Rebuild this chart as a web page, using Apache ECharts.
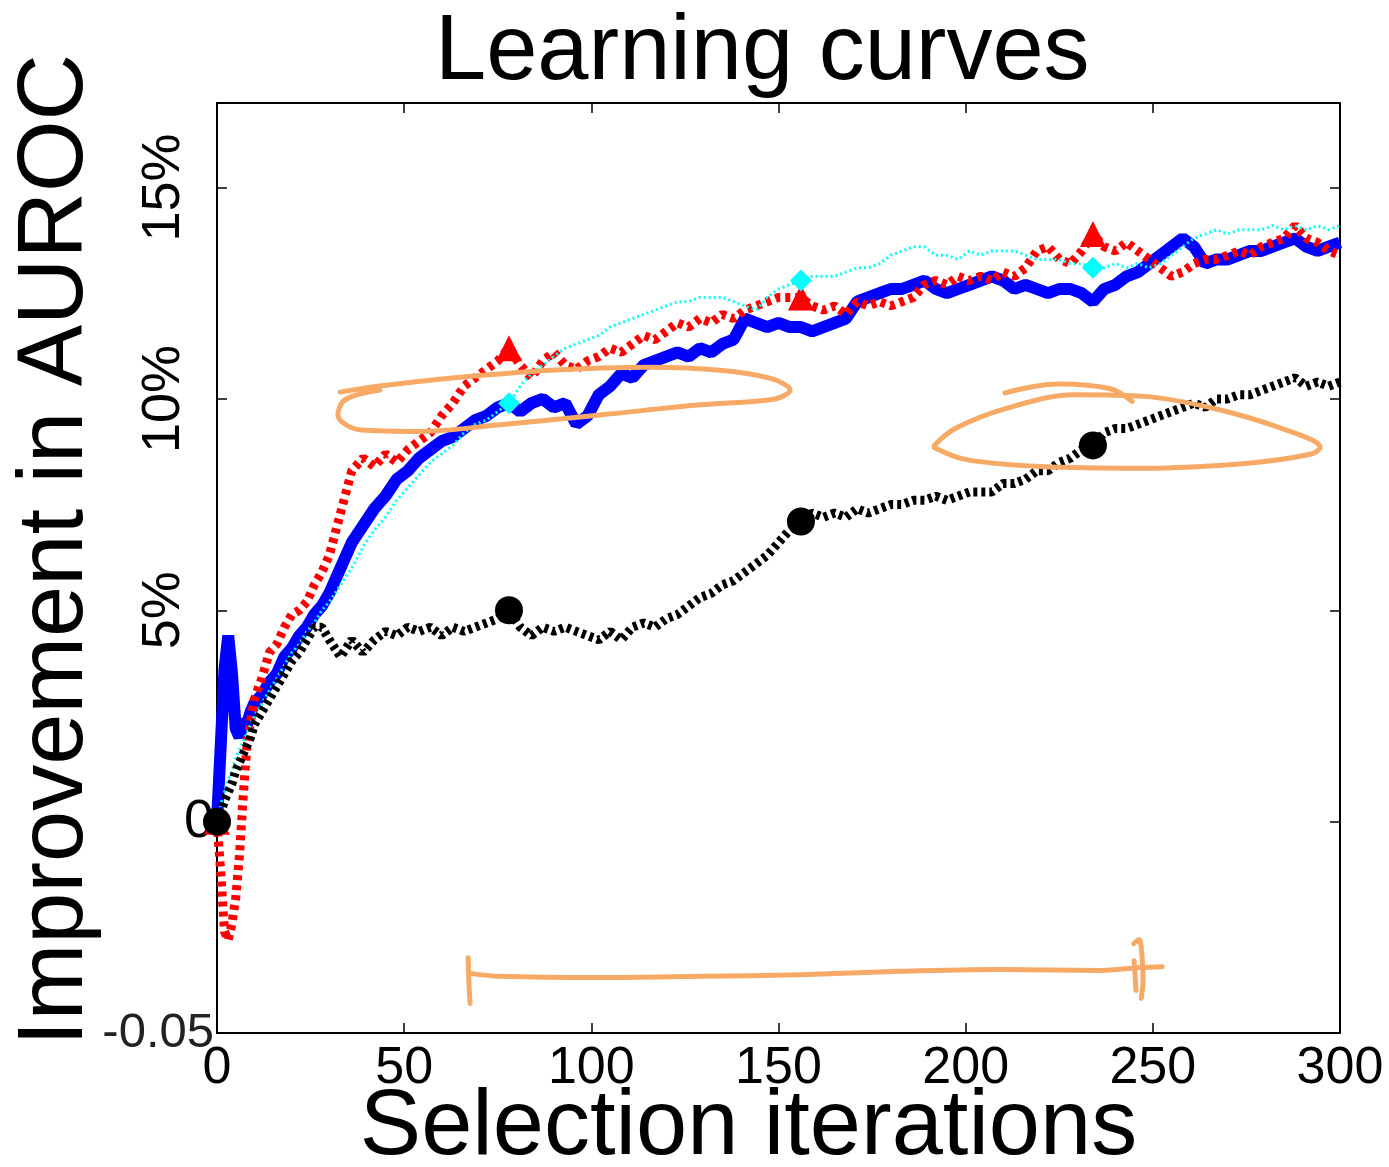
<!DOCTYPE html>
<html>
<head>
<meta charset="utf-8">
<title>Learning curves</title>
<script src="https://cdn.jsdelivr.net/npm/echarts@6/dist/echarts.min.js"></script>
<style>
  html, body { margin: 0; padding: 0; background: #fff; }
  #main { width: 1389px; height: 1167px; }
</style>
</head>
<body>
<div id="main"></div>
<script>
// selection iterations (x) – fine at the start, every 3 after 30
const iterations = [
  0, 1, 2, 3, 4, 5, 6, 7, 8, 9, 10,
  12, 14, 16, 18, 20, 22, 24, 26, 28,
  30, 33, 36, 39, 42, 45, 48, 51, 54, 57, 60, 63, 66, 69, 72, 75, 78, 81, 84, 87,
  90, 93, 96, 99, 102, 105, 108, 111, 114, 117, 120, 123, 126, 129, 132, 135, 138, 141, 144, 147,
  150, 153, 156, 159, 162, 165, 168, 171, 174, 177, 180, 183, 186, 189, 192, 195, 198, 201, 204, 207,
  210, 213, 216, 219, 222, 225, 228, 231, 234, 237, 240, 243, 246, 249, 252, 255, 258, 261, 264, 267,
  270, 273, 276, 279, 282, 285, 288, 291, 294, 297, 300
];

// improvement in AUROC, in %
const blueValues = [
  0, 1.8, 3.6, 4.4, 3.5, 2.2, 2.0, 2.4, 2.3, 2.6, 2.8,
  3.0, 3.3, 3.5, 3.9, 4.1, 4.4, 4.6, 4.9, 5.1,
  5.4, 6.0, 6.6, 7.0, 7.4, 7.7, 8.1, 8.3, 8.6, 8.8, 9.0, 9.1, 9.3, 9.5, 9.6, 9.8, 9.9, 9.7, 9.9, 10.0,
  9.8, 9.9, 9.4, 9.6, 10.1, 10.3, 10.6, 10.5, 10.8, 10.9, 11.0, 11.1, 11.0, 11.2, 11.1, 11.3, 11.4, 11.9, 11.8, 11.7,
  11.8, 11.7, 11.7, 11.6, 11.7, 11.8, 11.9, 12.3, 12.4, 12.5, 12.6, 12.6, 12.7, 12.8, 12.6, 12.5, 12.6, 12.7, 12.8, 12.9,
  12.8, 12.6, 12.7, 12.6, 12.5, 12.6, 12.6, 12.5, 12.3, 12.6, 12.7, 12.9, 13.0, 13.2, 13.4, 13.6, 13.8, 13.6, 13.2, 13.3,
  13.3, 13.4, 13.5, 13.5, 13.6, 13.7, 13.8, 13.6, 13.5, 13.6, 13.7
];
const redValues = [
  0, -1.2, -2.6, -2.8, -2.4, -1.8, -0.8, 0.6, 1.8, 2.4, 2.9,
  3.4, 4.0, 4.2, 4.6, 4.9, 5.0, 5.2, 5.6, 5.9,
  6.3, 7.3, 8.3, 8.6, 8.4, 8.7, 8.5, 8.8, 9.0, 9.2, 9.6, 9.9, 10.3, 10.5, 10.7, 10.9, 11.2, 10.8, 10.5, 10.9,
  11.1, 10.8, 10.7, 10.9, 11.0, 11.2, 11.1, 11.3, 11.5, 11.4, 11.6, 11.8, 11.7, 11.9, 11.8, 12.0, 11.9, 12.1, 12.2, 12.3,
  12.4, 12.4, 12.4, 12.2, 12.1, 12.2, 12.0, 12.3, 12.2, 12.3, 12.2, 12.3, 12.4, 12.7, 12.8, 12.7, 12.9, 12.8, 12.9, 12.8,
  13.0, 12.9, 13.1, 13.5, 13.6, 13.3, 13.2, 13.5, 13.9, 13.6, 13.5, 13.7, 13.5, 13.3, 13.1, 12.9, 13.0, 13.2, 13.3, 13.3,
  13.4, 13.5, 13.4, 13.6, 13.7, 13.8, 14.1, 13.8, 13.7, 13.5, 13.4
];
const cyanValues = [
  0, 0.4, 0.7, 1.0, 1.2, 1.5, 1.7, 1.9, 2.1, 2.3, 2.5,
  2.8, 3.1, 3.4, 3.7, 4.0, 4.2, 4.5, 4.7, 5.0,
  5.2, 5.6, 6.0, 6.5, 6.9, 7.2, 7.6, 7.9, 8.2, 8.5, 8.7, 8.9, 9.2, 9.4, 9.5, 9.7, 9.9, 10.3, 10.6, 10.8,
  11.0, 11.2, 11.3, 11.4, 11.5, 11.7, 11.8, 11.9, 12.0, 12.1, 12.2, 12.3, 12.3, 12.4, 12.4, 12.4, 12.3, 12.2, 12.1, 12.4,
  12.6, 12.7, 12.8, 12.9, 12.9, 12.9, 13.0, 13.1, 13.1, 13.2, 13.4, 13.5, 13.6, 13.6, 13.4, 13.4, 13.3, 13.5, 13.4, 13.5,
  13.5, 13.5, 13.4, 13.3, 13.3, 13.3, 13.2, 13.2, 13.1, 13.1, 13.2, 13.1, 13.2, 13.1, 13.2, 13.4, 13.6, 13.8, 13.9, 14.0,
  13.9, 14.0, 14.0, 14.0, 14.1, 14.0, 14.1, 14.0, 14.1, 14.0, 14.1
];
const blackValues = [
  0, 0.2, 0.5, 0.7, 0.9, 1.2, 1.4, 1.6, 1.8, 2.0, 2.3,
  2.6, 2.9, 3.2, 3.5, 3.8, 4.0, 4.3, 4.6, 4.6,
  4.3, 3.9, 4.3, 4.0, 4.3, 4.5, 4.4, 4.6, 4.5, 4.6, 4.4, 4.6, 4.5, 4.6, 4.7, 4.8, 5.0, 4.6, 4.4, 4.6,
  4.5, 4.6, 4.5, 4.4, 4.3, 4.5, 4.3, 4.6, 4.7, 4.6, 4.8, 4.9, 5.1, 5.3, 5.4, 5.6, 5.7, 5.9, 6.1, 6.3,
  6.6, 6.9, 7.1, 7.3, 7.2, 7.3, 7.2, 7.4, 7.3, 7.4, 7.5, 7.5, 7.6, 7.6, 7.7, 7.6, 7.7, 7.8, 7.8, 7.8,
  8.0, 8.0, 8.1, 8.3, 8.3, 8.5, 8.6, 8.8, 8.9, 9.2, 9.3, 9.3, 9.4, 9.5, 9.6, 9.7, 9.8, 9.9, 9.8, 10.0,
  10.0, 10.1, 10.1, 10.2, 10.3, 10.4, 10.5, 10.3, 10.4, 10.3, 10.4
];

// iterations where the curves carry a marker
const markerIterations = [0, 78, 156, 234];

// y ticks (%) and their labels
const yTicks = [-5, 0, 5, 10, 15];
const yTickLabels = ['-0.05', '0', '5%', '10%', '15%'];

// hand-drawn orange annotations, [iteration, %]
const noteLoopLeft = [
  [32.9, 10.16], [44.1, 10.31], [62.2, 10.49], [89.0, 10.68], [115.7, 10.75], [134.4, 10.68],
  [147.7, 10.49], [153.1, 10.21], [149.1, 10.0], [129.0, 9.86], [102.3, 9.62], [75.6, 9.39],
  [54.2, 9.23], [38.2, 9.27], [32.3, 9.62], [34.2, 9.98], [43.5, 10.21]
];
const noteLoopRightTail = [[210.5, 10.14], [224.7, 10.35], [238.6, 10.24], [244.5, 9.94]];
const noteLoopRight = [
  [191.6, 8.9], [197.2, 9.3], [211.1, 9.78], [229.2, 10.1], [247.7, 10.06], [266.1, 9.78],
  [284.5, 9.3], [294.7, 8.85], [292.0, 8.69], [275.4, 8.48], [247.7, 8.36], [220.1, 8.4],
  [199.8, 8.57], [191.6, 8.85]
];
const noteBar = [
  [67.6, -3.59], [75.6, -3.66], [102.3, -3.69], [129.0, -3.66], [155.8, -3.62],
  [182.5, -3.54], [209.2, -3.5], [235.9, -3.52], [246.6, -3.45], [252.5, -3.43]
];
const noteBarLeft = [[67.1, -3.22], [67.3, -3.8], [67.6, -4.3]];
const noteBarRight = [[244.9, -2.89], [246.3, -2.79], [247.1, -3.17], [247.4, -3.76], [246.9, -4.18]];
const noteBarRight2 = [[245.0, -3.29], [245.5, -3.99]];

const mainFont = "'Liberation Sans', Arial, sans-serif";
const orange = '#f7aa66';

function toPoints(values) {
  return iterations.map((it, i) => [it, values[i]]);
}

function curve(name, values, color, width, dash, symbol, symbolSize) {
  return {
    name: name,
    type: 'line',
    data: toPoints(values),
    symbol: symbol,
    showSymbol: true,
    symbolSize: (val) => (markerIterations.indexOf(val[0]) >= 0 ? symbolSize : 0),
    itemStyle: { color: color, borderWidth: 0 },
    lineStyle: { color: color, width: width, type: dash },
    silent: true
  };
}

function note(points) {
  return {
    type: 'line',
    data: points,
    smooth: 0.35,
    symbol: 'none',
    silent: true,
    z: 10,
    lineStyle: { color: orange, width: 5, cap: 'round', join: 'round' }
  };
}

const chartDom = document.getElementById('main');
const myChart = echarts.init(chartDom);

const yScale = { type: 'value', min: -5, max: 17, interval: 5, splitLine: { show: false } };
const xScale = { type: 'value', min: 0, max: 300, interval: 50, splitLine: { show: false } };
const axisLine = { show: true, onZero: false, lineStyle: { color: '#000', width: 2 } };
const innerTick = { show: true, inside: true, length: 10, lineStyle: { color: '#000', width: 1.5 } };

const option = {
  animation: false,
  backgroundColor: '#fff',
  title: {
    text: 'Learning curves',
    left: 430,
    top: 3,
    textStyle: { fontFamily: mainFont, fontSize: 92, fontWeight: 'normal', color: '#000' }
  },
  grid: { left: 217, right: 49, top: 103, bottom: 134, containLabel: false, outerBoundsMode: 'none' },
  xAxis: [
    Object.assign({}, xScale, {
      position: 'bottom',
      axisLine: axisLine,
      axisTick: innerTick,
      axisLabel: { margin: 10, fontFamily: mainFont, fontSize: 52, color: '#000' },
      name: 'Selection iterations',
      nameLocation: 'middle',
      nameGap: 50,
      nameMoveOverlap: false,
      nameTextStyle: { fontFamily: mainFont, fontSize: 92, color: '#000', padding: [0, 60, 0, 0] }
    }),
    Object.assign({}, xScale, {
      position: 'top',
      axisLine: axisLine,
      axisTick: innerTick,
      axisLabel: { show: false }
    })
  ],
  yAxis: [
    Object.assign({}, yScale, {
      position: 'left',
      axisLine: axisLine,
      axisTick: innerTick,
      axisLabel: {
        rotate: 90,
        margin: 26,
        fontFamily: mainFont,
        fontSize: 54,
        color: '#000',
        formatter: (v) => (v > 0 && yTicks.indexOf(v) >= 0 ? yTickLabels[yTicks.indexOf(v)] : '')
      },
      name: 'Improvement in AUROC',
      nameLocation: 'middle',
      nameGap: 114,
      nameTextStyle: { fontFamily: mainFont, fontSize: 92, color: '#000', padding: [0, 0, 0, 36] }
    }),
    Object.assign({}, yScale, {
      position: 'left',
      axisLine: { show: false },
      axisTick: { show: false },
      axisLabel: {
        margin: 3,
        formatter: (v) => {
          if (v === -5) return '{a|' + yTickLabels[0] + '}';
          if (v === 0) return '{b|' + yTickLabels[1] + '}';
          return '';
        },
        rich: {
          a: { fontFamily: mainFont, fontSize: 49, color: '#222' },
          b: { fontFamily: mainFont, fontSize: 54, color: '#000' }
        }
      }
    }),
    Object.assign({}, yScale, {
      position: 'right',
      axisLine: axisLine,
      axisTick: innerTick,
      axisLabel: { show: false }
    })
  ],
  series: [
    curve('blue', blueValues, '#0000ff', 12, 'solid', 'rect', 0),
    curve('red', redValues, '#ff0000', 9, [5, 5], 'triangle', 26),
    curve('cyan', cyanValues, '#00ffff', 3, [2, 3], 'diamond', 22),
    curve('black', blackValues, '#000000', 9, [4, 4], 'circle', 28),
    note(noteLoopLeft),
    note(noteLoopRightTail),
    note(noteLoopRight),
    note(noteBar),
    note(noteBarLeft),
    note(noteBarRight),
    note(noteBarRight2)
  ]
};

option && myChart.setOption(option);
</script>
</body>
</html>
